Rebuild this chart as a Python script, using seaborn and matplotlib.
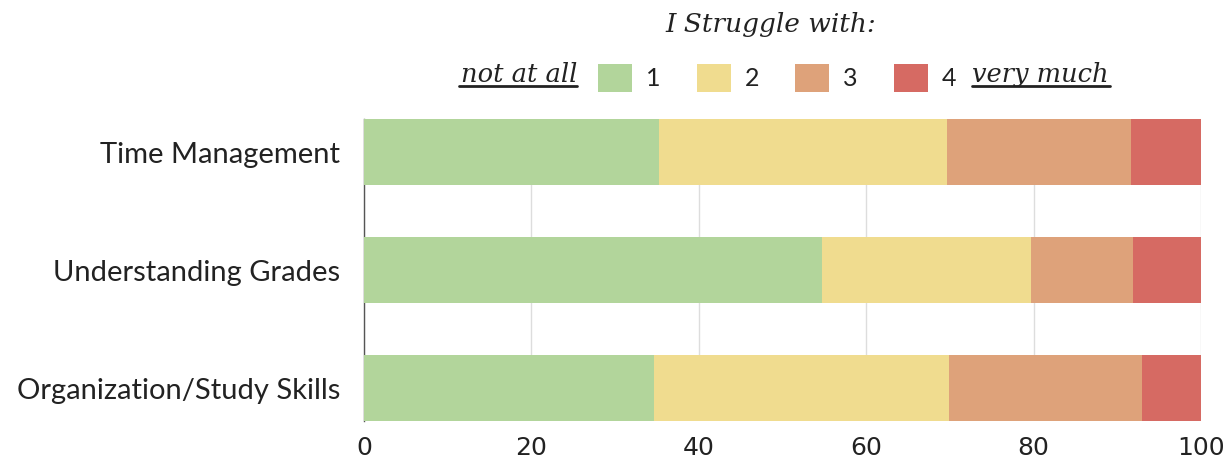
import matplotlib
matplotlib.use("Agg")
import matplotlib.pyplot as plt
import seaborn as sns
import numpy as np
from matplotlib.patches import Patch

categories = ["Time Management", "Understanding Grades", "Organization/Study Skills"]
level_labels = ["1", "2", "3", "4"]
level1 = [35.2, 54.7, 34.6]
level2 = [34.5, 25.0, 35.3]
level3 = [21.9, 12.2, 23.1]
level4 = [8.4, 8.1, 7.0]
colors = ["#b2d59b", "#f0dc8f", "#dea27a", "#d66a63"]
xticks = [0, 20, 40, 60, 80, 100]

sns.set_theme(style="white")
plt.rcParams["font.family"] = ["Lato", "DejaVu Sans"]

fig = plt.figure(figsize=(12.27, 4.62), dpi=100)
ax = fig.add_axes([0.2967, 0.0887, 0.6821, 0.6531])

series = [level1, level2, level3, level4]
cums = np.cumsum(np.array(series), axis=0)
for i in range(3, -1, -1):
    sns.barplot(x=cums[i], y=categories, orient="h", color=colors[i],
                width=0.56, ax=ax, zorder=3, saturation=1,
                linewidth=0, edgecolor="none")

ax.set_xlim(0, 100)
ax.set_ylim(2.28, -0.28)
ax.set_xticks(xticks)
ax.set_xticklabels([str(t) for t in xticks], family=["DejaVu Sans"], fontsize=18)
ax.grid(axis="x", color="#dddddd", linewidth=1, zorder=0)
ax.set_axisbelow(True)
for s in ["top", "right", "bottom"]:
    ax.spines[s].set_visible(False)
ax.spines["left"].set_color("#555555")
ax.spines["left"].set_linewidth(1)
ax.spines["left"].set_zorder(1)
ax.tick_params(axis="y", length=0, pad=17, labelsize=21, labelcolor="#222222")
ax.tick_params(axis="x", length=0, pad=11, labelcolor="#222222")
ax.set_xlabel("")
ax.set_ylabel("")

serif = ["DejaVu Serif"]
fig.text(0.628, 0.948, "I Struggle with:", ha="center", va="center",
         fontsize=19, style="italic", family=serif, color="#222222")

handles = [Patch(facecolor=c, edgecolor="none") for c in colors]
leg = fig.legend(handles, level_labels, ncol=4, loc="center",
                 bbox_to_anchor=(0.6335, 0.831), frameon=False, fontsize=18,
                 handlelength=1.36, handleheight=1.33, handletextpad=0.56,
                 columnspacing=1.45, labelcolor="#222222")

fig.text(0.4703, 0.822, "not at all", ha="right", va="baseline", fontsize=18.5,
         style="italic", family=serif, color="#222222")
fig.text(0.792, 0.822, "very much", ha="left", va="baseline", fontsize=18.5,
         style="italic", family=serif, color="#222222")
# underlines
fig.add_artist(plt.Line2D([0.374, 0.4703], [0.813, 0.813], color="#222222", lw=2))
fig.add_artist(plt.Line2D([0.792, 0.905], [0.813, 0.813], color="#222222", lw=2))

fig.savefig("out.png", dpi=100)
